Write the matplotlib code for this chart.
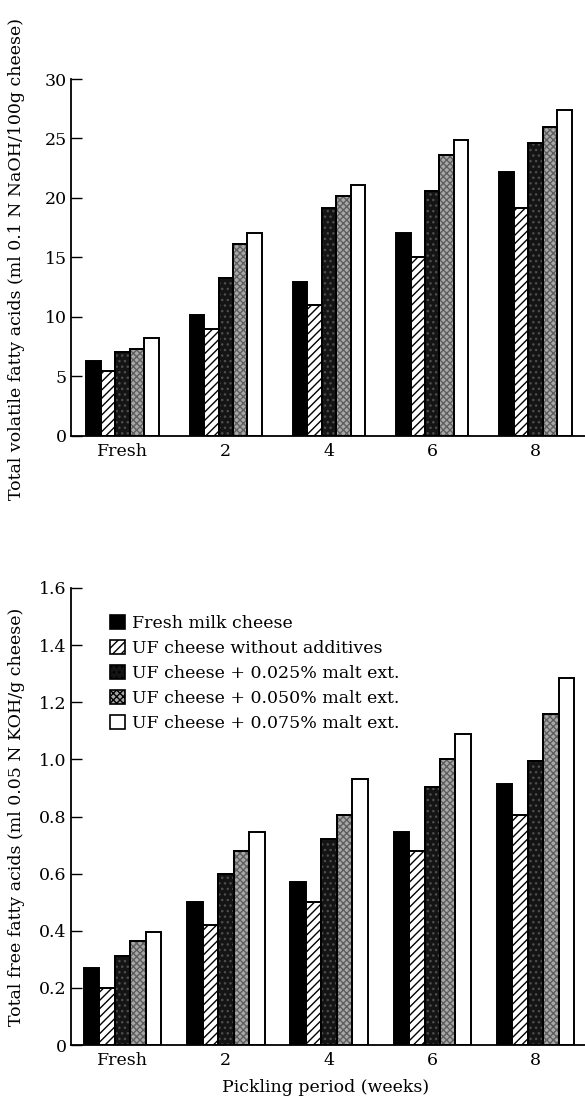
import matplotlib
matplotlib.use("Agg")
import matplotlib.pyplot as plt
from matplotlib.patches import Patch
import numpy as np

plt.rcParams['font.family'] = ['DejaVu Serif']
plt.rcParams['hatch.linewidth'] = 1.0

periods = ["Fresh", "2", "4", "6", "8"]
series_names = [
    "Fresh milk cheese",
    "UF cheese without additives",
    "UF cheese + 0.025% malt ext.",
    "UF cheese + 0.050% malt ext.",
    "UF cheese + 0.075% malt ext.",
]

# Total volatile fatty acids (ml 0.1 N NaOH / 100 g cheese)
tvfa_fresh_milk = [6.3, 10.2, 12.9, 17.1, 22.2]
tvfa_uf_plain = [5.5, 9.0, 11.0, 15.0, 19.2]
tvfa_uf_025 = [7.1, 13.3, 19.2, 20.6, 24.6]
tvfa_uf_050 = [7.3, 16.1, 20.2, 23.6, 26.0]
tvfa_uf_075 = [8.2, 17.1, 21.1, 24.9, 27.4]

# Total free fatty acids (ml 0.05 N KOH / g cheese)
tffa_fresh_milk = [0.27, 0.50, 0.57, 0.745, 0.915]
tffa_uf_plain = [0.20, 0.42, 0.50, 0.68, 0.805]
tffa_uf_025 = [0.31, 0.60, 0.72, 0.905, 0.995]
tffa_uf_050 = [0.365, 0.68, 0.805, 1.00, 1.16]
tffa_uf_075 = [0.395, 0.745, 0.93, 1.09, 1.285]

yticks_top = [0, 5, 10, 15, 20, 25, 30]
yticks_bottom = [0, 0.2, 0.4, 0.6, 0.8, 1.0, 1.2, 1.4, 1.6]
ytick_labels_bottom = ["0", "0.2", "0.4", "0.6", "0.8", "1.0", "1.2", "1.4", "1.6"]

# fill styles: (facecolor, hatch, hatch colour)
styles = [
    ("black", None, None),
    ("white", "////", "black"),
    ("#141414", "...", "#4d4d4d"),
    ("#a8a8a8", "xxxxx", "#5e5e5e"),
    ("white", None, None),
]

FS = 12.5


def draw_bars(ax, data, width):
    x = np.arange(len(periods))
    n = len(data)
    for i, (vals, (fc, hatch, hc)) in enumerate(zip(data, styles)):
        pos = x + (i - (n - 1) / 2) * width
        ax.bar(pos, vals, width, color=fc, edgecolor="black", linewidth=1.4, zorder=2)
        if hatch:
            ax.bar(pos, vals, width, fill=False, hatch=hatch, edgecolor=hc,
                   linewidth=0, zorder=3)
            ax.bar(pos, vals, width, fill=False, edgecolor="black",
                   linewidth=1.4, zorder=4)
    ax.set_xticks(x)
    ax.set_xticklabels(periods, fontsize=FS)
    ax.set_xlim(-0.5, 4.48)
    for s in ("top", "right"):
        ax.spines[s].set_visible(False)
    for s in ("left", "bottom"):
        ax.spines[s].set_linewidth(1.3)
    ax.tick_params(axis="x", length=0, pad=5)
    ax.tick_params(axis="y", direction="in", length=8, width=1.0, labelsize=FS, pad=3)


fig = plt.figure(figsize=(5.85, 11.05), dpi=100)

ax1 = fig.add_axes([71 / 585, 1 - 436 / 1105, 514 / 585, 357 / 1105])
draw_bars(ax1, [tvfa_fresh_milk, tvfa_uf_plain, tvfa_uf_025, tvfa_uf_050, tvfa_uf_075], 0.14)
ax1.set_ylim(0, 30)
ax1.set_yticks(yticks_top)
ax1.set_yticklabels([str(v) for v in yticks_top])
fig.text(17 / 585, 1 - 259 / 1105,
         "Total volatile fatty acids (ml 0.1 N NaOH/100g cheese)",
         rotation=90, ha="center", va="center", fontsize=FS)

ax2 = fig.add_axes([71 / 585, 1 - 1045 / 1105, 514 / 585, 457 / 1105])
draw_bars(ax2, [tffa_fresh_milk, tffa_uf_plain, tffa_uf_025, tffa_uf_050, tffa_uf_075], 0.15)
ax2.set_ylim(0, 1.6)
ax2.set_yticks(yticks_bottom)
ax2.set_yticklabels(ytick_labels_bottom)
fig.text(17 / 585, 1 - 817 / 1105,
         "Total free fatty acids (ml 0.05 N KOH/g cheese)",
         rotation=90, ha="center", va="center", fontsize=FS)
fig.text(326 / 585, 1 - 1087 / 1105, "Pickling period (weeks)",
         ha="center", va="center", fontsize=FS)

handles = []
for name, (fc, hatch, hc) in zip(series_names, styles):
    handles.append(Patch(facecolor=fc, edgecolor="black", linewidth=1.2,
                         hatch=hatch, label=name))
leg = ax2.legend(handles=handles, loc="upper left", bbox_to_anchor=(0.062, 0.957),
                 frameon=False, fontsize=FS, handlelength=0.85, handleheight=0.85,
                 handletextpad=0.45, labelspacing=0.47, borderaxespad=0)

fig.savefig("out.png", dpi=100)
